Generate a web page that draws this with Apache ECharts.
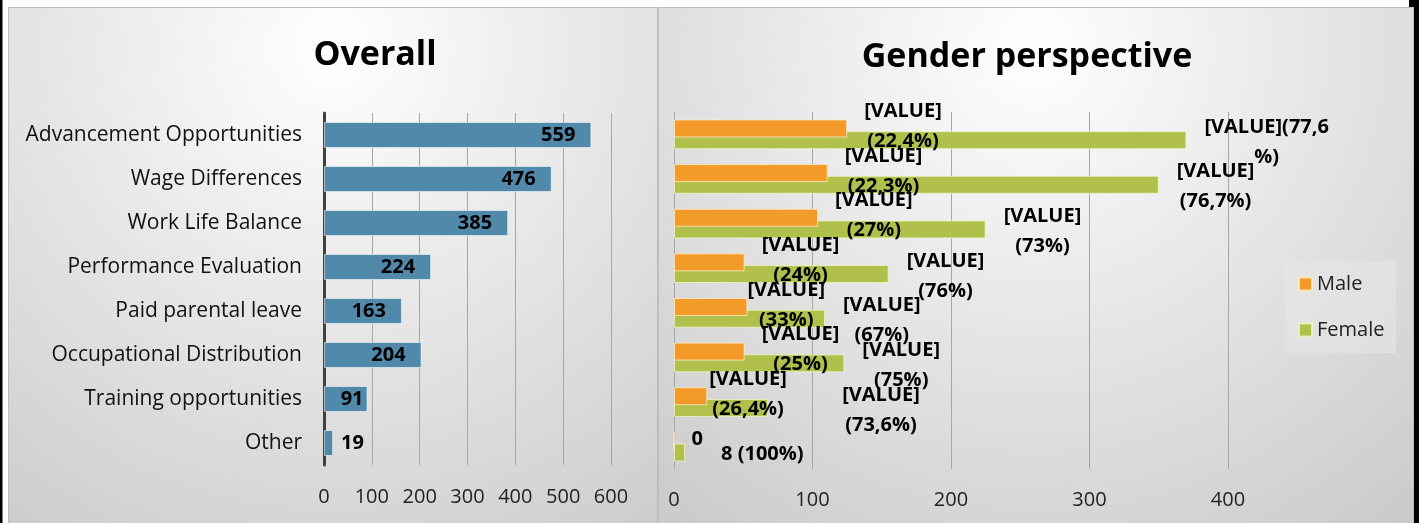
<!DOCTYPE html>
<html>
<head>
<meta charset="utf-8">
<title>Overall / Gender perspective</title>
<script src="https://cdn.jsdelivr.net/npm/echarts@6/dist/echarts.min.js"></script>
<style>
  html, body { margin: 0; padding: 0; background: #fff; }
  #chart { width: 1419px; height: 523px; }
</style>
</head>
<body>
<div id="chart"></div>
<script>
const categories = [
  "Advancement Opportunities",
  "Wage Differences",
  "Work Life Balance",
  "Performance Evaluation",
  "Paid parental leave",
  "Occupational Distribution",
  "Training opportunities",
  "Other",
];
const overallValues = [559, 476, 385, 224, 163, 204, 91, 19];
const maleValues = [125, 111, 104, 51, 53, 51, 24, 0];
const femaleValues = [370, 350, 225, 155, 109, 123, 68, 8];
const maleLabels = [
  "[VALUE]\n(22,4%)",
  "[VALUE]\n(22,3%)",
  "[VALUE]\n(27%)",
  "[VALUE]\n(24%)",
  "[VALUE]\n(33%)",
  "[VALUE]\n(25%)",
  "[VALUE]\n(26,4%)",
  "0",
];
const femaleLabels = [
  "[VALUE](77,6\n%)",
  "[VALUE]\n(76,7%)",
  "[VALUE]\n(73%)",
  "[VALUE]\n(76%)",
  "[VALUE]\n(67%)",
  "[VALUE]\n(75%)",
  "[VALUE]\n(73,6%)",
  "8 (100%)",
];

const FONT = '"Open Sans", sans-serif';
const BLUE = "#5089aa";
const ORANGE = "#f29b29";
const GREEN = "#b0c04a";

// the labels were dragged around by hand in the original, a few sit off the default spot
const maleShift = [0, 0, 0, 0, -17, 0, -15, 0];
const femaleShift = [0, 0, 0, 0, 0, 0, 56, 18];

const measureCtx = document.createElement("canvas").getContext("2d");
function halfWidth(text) {
  measureCtx.font = "bold 20px " + FONT;
  const widths = text.split("\n").map((s) => measureCtx.measureText(s).width);
  return Math.max(...widths) / 2;
}

function panelBg(x, y, w, h) {
  return {
    type: "rect",
    z: -10,
    silent: true,
    shape: { x, y, width: w, height: h },
    style: {
      fill: {
        type: "radial",
        x: 0.5,
        y: 0.08,
        r: 1.15,
        colorStops: [
          { offset: 0, color: "#ffffff" },
          { offset: 1, color: "#cbcbcb" },
        ],
      },
      stroke: "#bdbdbd",
      lineWidth: 1,
    },
  };
}

const genderLabel = {
  show: true,
  position: "right",
  distance: 0,
  align: "center",
  verticalAlign: "middle",
  fontFamily: FONT,
  fontWeight: "bold",
  fontSize: 20,
  lineHeight: 30,
  color: "#000",
};

const chart = echarts.init(document.getElementById("chart"));

const option = {
  animation: false,
  backgroundColor: "#fff",
  textStyle: { fontFamily: FONT },
  graphic: [
    { type: "rect", z: -10, silent: true, shape: { x: 0, y: 0, width: 2.5, height: 523 }, style: { fill: "#000" } },
    { type: "rect", z: -10, silent: true, shape: { x: 1414, y: 0, width: 5, height: 523 }, style: { fill: "#000" } },
    { type: "rect", z: -10, silent: true, shape: { x: 1409, y: 0, width: 10, height: 7 }, style: { fill: "#000" } },
    panelBg(8.5, 7.5, 649, 516),
    panelBg(658.5, 7.5, 755, 516),
    {
      type: "text",
      x: 375,
      y: 55,
      style: { text: "Overall", fontFamily: FONT, fontWeight: "bold", fontSize: 34, fill: "#000", align: "center", verticalAlign: "middle" },
    },
    {
      type: "text",
      x: 1027,
      y: 57,
      style: { text: "Gender perspective", fontFamily: FONT, fontWeight: "bold", fontSize: 34, fill: "#000", align: "center", verticalAlign: "middle" },
    },
  ],
  legend: {
    data: ["Male", "Female"],
    orient: "vertical",
    left: 1285,
    top: 261,
    icon: "rect",
    itemWidth: 13,
    itemHeight: 13,
    itemGap: 22,
    padding: [11, 12, 11, 13],
    backgroundColor: "rgba(230,230,230,0.6)",
    textStyle: { fontFamily: FONT, fontSize: 20, lineHeight: 24, color: "#222" },
  },
  grid: [
    { left: 324, top: 113, width: 287, height: 352 },
    { left: 674, top: 112, width: 554, height: 357 },
  ],
  xAxis: [
    {
      type: "value",
      gridIndex: 0,
      min: 0,
      max: 600,
      interval: 100,
      axisLine: { show: false },
      axisTick: { show: false },
      axisLabel: { fontFamily: FONT, fontSize: 20, color: "#222", margin: 22 },
      splitLine: { lineStyle: { color: "#a6a6a6", width: 1 } },
    },
    {
      type: "value",
      gridIndex: 1,
      min: 0,
      max: 400,
      interval: 100,
      axisLine: { show: false },
      axisTick: { show: false },
      axisLabel: { fontFamily: FONT, fontSize: 20, color: "#222", margin: 21 },
      splitLine: { lineStyle: { color: "#a6a6a6", width: 1 } },
    },
  ],
  yAxis: [
    {
      type: "category",
      gridIndex: 0,
      data: categories,
      inverse: true,
      axisLine: { lineStyle: { color: "#404040", width: 3 } },
      axisTick: { show: false },
      axisLabel: { fontFamily: FONT, fontSize: 21, color: "#111", margin: 22 },
    },
    {
      type: "category",
      gridIndex: 1,
      data: categories,
      inverse: true,
      axisLine: { show: false },
      axisTick: { show: false },
      axisLabel: { show: false },
    },
  ],
  series: [
    {
      name: "Overall",
      type: "bar",
      xAxisIndex: 0,
      yAxisIndex: 0,
      barWidth: 26,
      itemStyle: { color: BLUE, borderColor: "rgba(255,255,255,0.55)", borderWidth: 1 },
      label: {
        show: true,
        position: "insideRight",
        distance: 16,
        fontFamily: FONT,
        fontWeight: "bold",
        fontSize: 20,
        color: "#000",
      },
      data: overallValues.map((v) => {
        if (v < 50) return { value: v, label: { position: "right", distance: 8 } };
        if (v < 100) return { value: v, label: { distance: 4 } };
        return v;
      }),
    },
    {
      name: "Male",
      type: "bar",
      xAxisIndex: 1,
      yAxisIndex: 1,
      barWidth: 18,
      barGap: "-35%",
      z: 3,
      itemStyle: { color: ORANGE, borderColor: "rgba(255,235,200,0.8)", borderWidth: 1 },
      label: genderLabel,
      data: maleValues.map((v, i) => ({
        value: v,
        label: { formatter: maleLabels[i], offset: [17 + halfWidth(maleLabels[i]) + maleShift[i], -2] },
      })),
    },
    {
      name: "Female",
      type: "bar",
      xAxisIndex: 1,
      yAxisIndex: 1,
      barWidth: 18,
      barGap: "-35%",
      z: 2,
      itemStyle: { color: GREEN, borderColor: "rgba(240,245,200,0.8)", borderWidth: 1 },
      label: genderLabel,
      data: femaleValues.map((v, i) => ({
        value: v,
        label: { formatter: femaleLabels[i], offset: [18 + halfWidth(femaleLabels[i]) + femaleShift[i], 2] },
      })),
    },
  ],
};

chart.setOption(option);
window.addEventListener("resize", () => chart.resize());
</script>
</body>
</html>
